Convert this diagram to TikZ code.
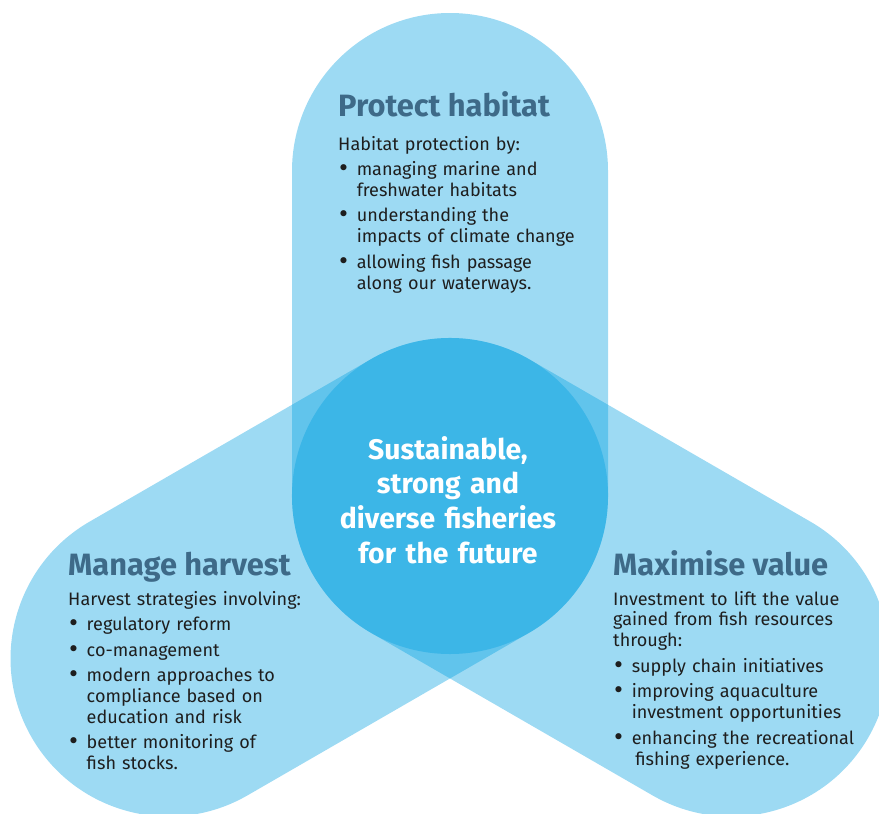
\documentclass[tikz,border=0pt]{standalone}
\usepackage{fontspec}
\setmainfont{Fira Sans}
\newfontfamily\dotfont{DejaVu Sans}
\usepackage{xcolor}
\usepackage{tikz}
\usetikzlibrary{positioning}

\definecolor{lobeblue}{RGB}{0,159,224}
\definecolor{headblue}{RGB}{62,106,136}
\definecolor{bodyblack}{RGB}{30,30,30}

\newcommand{\bpt}{\makebox[15.8pt][l]{\hspace{-0.8pt}{\dotfont\fontsize{18}{18}\selectfont •}}}
\newcommand{\bind}{\hspace*{15.8pt}}

\begin{document}
\begin{tikzpicture}[x=0.03cm, y=-0.03cm,
    lobe/.style={fill=lobeblue, fill opacity=0.384},
    head/.style={anchor=base west, inner sep=0, text=headblue, font=\fontsize{26.3}{28}\selectfont\bfseries},
    body/.style={anchor=base west, inner sep=0, text=bodyblack, text width=8cm, align=left, font=\fontsize{15.4}{17.8}\selectfont},
    hubtext/.style={inner sep=0, text=white, text width=8cm, align=center, font=\fontsize{24.2}{29.5}\selectfont\bfseries}]
  \useasboundingbox (0,0) rectangle (879,813);
  \clip (0,0) rectangle (879,813);

  \coordinate (C) at (450,496);

  % three lobes, radius 158, reach 325 from the centre
  \fill[lobe] ([shift={(0:158)}]C)   -- ++(270:325) arc[start angle=0,   end angle=-180, radius=158] -- ++(90:325)  arc[start angle=180, end angle=0,    radius=158] -- cycle;
  \fill[lobe] ([shift={(240:158)}]C) -- ++(150:325) arc[start angle=240, end angle=60,   radius=158] -- ++(330:325) arc[start angle=60,  end angle=-120, radius=158] -- cycle;
  \fill[lobe] ([shift={(120:158)}]C) -- ++(30:325)  arc[start angle=120, end angle=-60,  radius=158] -- ++(210:325) arc[start angle=-60, end angle=-240, radius=158] -- cycle;

  \node[hubtext] (hub) at (448,500) {Sustainable,\\ strong and\\ diverse fisheries\\ for the future};

  \node[head] (PH)  at (338,116) {Protect habitat};
  \node[body] (PHb) at (338,150) {Habitat protection by:\\[4pt]
      \bpt managing marine and\\ \bind freshwater habitats\\[4pt]
      \bpt understanding the\\ \bind impacts of climate change\\[4pt]
      \bpt allowing fish passage\\ \bind along our waterways.};

  \node[head] (MH)  at (68,575) {Manage harvest};
  \node[body] (MHb) at (68,605) {Harvest strategies involving:\\[4pt]
      \bpt regulatory reform\\[4pt]
      \bpt co-management\\[4pt]
      \bpt modern approaches to\\ \bind compliance based on\\ \bind education and risk\\[4pt]
      \bpt better monitoring of\\ \bind fish stocks.};

  \node[head] (MV)  at (613,575) {Maximise value};
  \node[body] (MVb) at (613,605) {Investment to lift the value\\ gained from fish resources\\ through:\\[4pt]
      \bpt supply chain initiatives\\[4pt]
      \bpt improving aquaculture\\ \bind investment opportunities\\[4pt]
      \bpt enhancing the recreational\\ \bind\hspace{3pt}fishing experience.};
\end{tikzpicture}
\end{document}
